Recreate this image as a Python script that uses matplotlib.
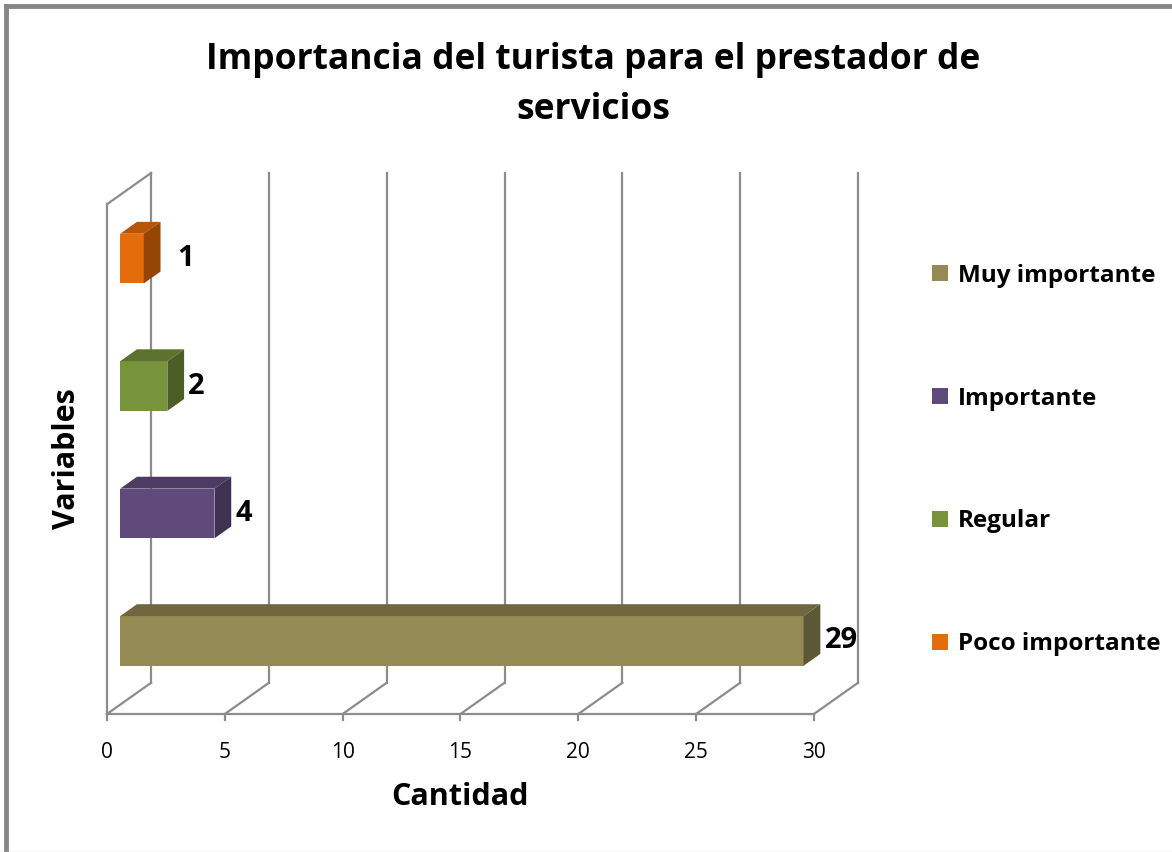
import matplotlib.pyplot as plt
from matplotlib.patches import Polygon, Patch
from matplotlib.lines import Line2D

# data (bottom to top, as drawn)
categories = ['Muy importante', 'Importante', 'Regular', 'Poco importante']
values = [29, 4, 2, 1]
front_colors = ['#948A54', '#604A7B', '#77933C', '#E46C0A']
top_colors = ['#706741', '#4D3B63', '#5C7330', '#B65508']
side_colors = ['#5E5736', '#3F3152', '#4B5E27', '#954606']
x_ticks = [0, 5, 10, 15, 20, 25, 30]

title = 'Importancia del turista para el prestador de\nservicios'
font = 'Open Sans'
grid_color = '#8C8C8C'

# pseudo 3d depth offset, in data units
DX, DY = 1.87, 0.245
bar_h = 0.39
d0, d1 = 0.3, 0.68  # bar depth span as fraction of the full depth

fig = plt.figure(figsize=(11.72, 8.52), dpi=100)
ax = fig.add_axes([107 / 1172, (852 - 714) / 852, (858 - 107) / 1172, (714 - 173) / 852])
ax.set_xlim(0, 30 + DX)
ax.set_ylim(0, 4 + DY)
ax.axis('off')

n = len(categories)
kw = dict(color=grid_color, lw=1.6, clip_on=False, zorder=1)
# back wall grid + floor diagonals
for t in x_ticks:
    ax.plot([t + DX, t + DX], [DY, n + DY], **kw)
    ax.plot([t, t + DX], [0, DY], **kw)
    ax.plot([t, t], [0, -0.05], **kw)
# left wall and front floor edge
ax.plot([0, 0], [0, n], **kw)
ax.plot([0, DX], [n, n + DY], **kw)
ax.plot([0, 30], [0, 0], **kw)

for i, (v, fc, tc, sc) in enumerate(zip(values, front_colors, top_colors, side_colors)):
    x0, y0 = d0 * DX, i + 0.5 - bar_h / 2 + d0 * DY
    ddx, ddy = (d1 - d0) * DX, (d1 - d0) * DY
    x1, y1 = x0 + v, y0 + bar_h
    front = Polygon([(x0, y0), (x1, y0), (x1, y1), (x0, y1)], closed=True, fc=fc, ec='none', zorder=3)
    top = Polygon([(x0, y1), (x1, y1), (x1 + ddx, y1 + ddy), (x0 + ddx, y1 + ddy)], closed=True, fc=tc, ec='none', zorder=3)
    side = Polygon([(x1, y0), (x1 + ddx, y0 + ddy), (x1 + ddx, y1 + ddy), (x1, y1)], closed=True, fc=sc, ec='none', zorder=3)
    for p in (front, top, side):
        p.set_clip_on(False)
        ax.add_patch(p)
    gap = 2.0 if v == 1 else 1.45
    ax.text(v + gap, i + 0.5 + d0 * DY, str(v), ha='left', va='center', fontsize=21,
            fontweight='bold', family=font, zorder=4)

for t in x_ticks:
    ax.text(t, -0.22, str(t), ha='center', va='top', fontsize=15, family=font)

ax.text(15, -0.53, 'Cantidad', ha='center', va='top', fontsize=22, fontweight='bold', family=font)
ax.text(-1.05, n / 2, 'Variables', ha='right', va='center', rotation=90, fontsize=22,
        fontweight='bold', family=font)

fig.text(593 / 1172, 1 - 85 / 852, title, ha='center', va='center', fontsize=25.5,
         fontweight='bold', family=font, linespacing=1.55)

# legend order as in the original: top to bottom
handles = [Patch(fc=front_colors[i], ec='none') for i in range(n)]
fig.legend(handles, categories, loc='center left', bbox_to_anchor=(932 / 1172, 1 - 460 / 852),
           frameon=False, prop={'family': font, 'weight': 'bold', 'size': 17.5},
           handlelength=0.66, handleheight=0.66, handletextpad=0.4, labelspacing=4.07,
           borderpad=0, borderaxespad=0)

# outer frame
fig.add_artist(Line2D([6 / 1172, 6 / 1172], [0, 1 - 6 / 852], transform=fig.transFigure, color='#868686', lw=3.5))
fig.add_artist(Line2D([6 / 1172, 1], [1 - 6 / 852, 1 - 6 / 852], transform=fig.transFigure, color='#868686', lw=3.5))
fig.add_artist(Line2D([0, 1], [0.5 / 852, 0.5 / 852], transform=fig.transFigure, color='#D0D0D0', lw=1))

fig.savefig('out.png', dpi=100)
